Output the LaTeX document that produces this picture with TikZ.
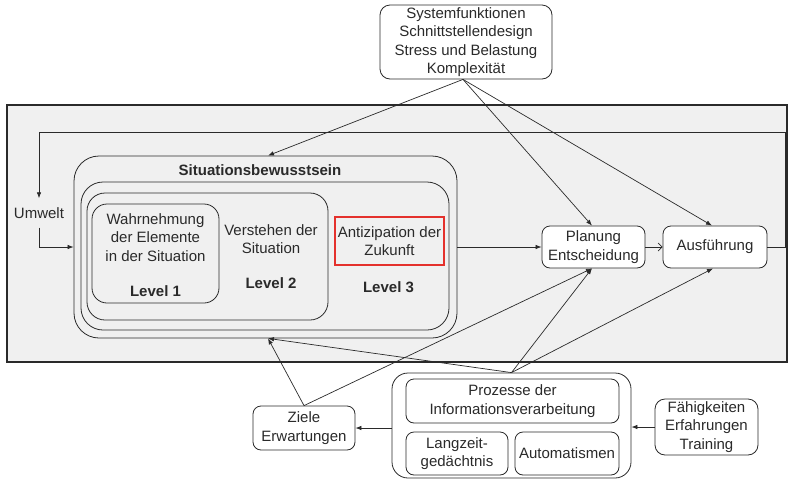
\documentclass[tikz,border=0pt]{standalone}
\usepackage{fontspec}
\setmainfont{Liberation Sans}
\usetikzlibrary{arrows.meta}
\definecolor{ink}{HTML}{2A2A2A}
\definecolor{panel}{HTML}{F0F0F0}
\definecolor{hilite}{HTML}{E4312C}
\begin{document}
\begin{tikzpicture}[x=1pt,y=-1pt,
  every node/.style={font=\fontsize{15}{18.4}\selectfont, text=ink},
  box/.style={draw=ink, line width=0.8pt, rounded corners=#1, inner sep=0pt, align=center},
  box/.default=8pt,
  label/.style={inner sep=0pt, align=center},
  head/.style={inner sep=0pt, font=\fontsize{15}{18.4}\selectfont\bfseries},
  conn/.style={draw=ink, line width=0.7pt, -{Latex[length=6pt,width=4.5pt]}},
  openconn/.style={draw=ink, line width=0.7pt, -{Straight Barb[length=4pt,width=8pt]}}
]
\useasboundingbox (0,0) rectangle (788,480);

% grey system frame
\node[draw=ink, line width=2pt, fill=panel, minimum width=780, minimum height=257, inner sep=0pt]
  (frame) at (397,233.5) {};

% influencing factors at the top
\node[box=10pt, fill=white, minimum width=172, minimum height=74] (sys) at (466,42)
  {Systemfunktionen\\Schnittstellendesign\\Stress und Belastung\\Komplexität};

% situation awareness, nested levels
\node[box=25pt, fill=panel, minimum width=383, minimum height=182] (sb) at (265.5,247) {};
\node[head] (sbtitle) at (260,170) {Situationsbewusstsein};
\node[box=22pt, fill=panel, minimum width=368, minimum height=148] (sbb) at (265,256) {};
\node[box=18pt, fill=panel, minimum width=241, minimum height=127] (lvtwo) at (207.5,256.5) {};
\node[box=15pt, fill=panel, minimum width=127, minimum height=99] (lvone) at (155.5,253.5) {};
\node[label] (wahr) at (155.5,237.5) {Wahrnehmung\\der Elemente\\in der Situation};
\node[head] (lone) at (155.5,291) {Level 1};
\node[label] (verst) at (271,239) {Verstehen der\\Situation};
\node[head] (ltwo) at (271,283) {Level 2};
\node[draw=hilite, line width=1.3pt, minimum width=109, minimum height=48, inner sep=0pt, align=center]
  (antiz) at (389.5,241) {Antizipation der\\Zukunft};
\node[head] (lthree) at (388.5,287) {Level 3};

% decision and action
\node[box=8pt, fill=white, minimum width=103, minimum height=42] (plan) at (593.5,247) {Planung\\Entscheidung};
\node[box=8pt, fill=white, minimum width=104, minimum height=42] (ausf) at (715,247) {Ausführung};

% environment
\node[label, inner ysep=9pt] (umwelt) at (39,213) {Umwelt};

% individual factors at the bottom
\node[box=16pt, fill=white, minimum width=239, minimum height=105] (prz) at (511.5,425.5) {};
\node[box=8pt, fill=white, minimum width=213, minimum height=44] (przi) at (512.5,401) {Prozesse der\\Informationsverarbeitung};
\node[box=8pt, fill=white, minimum width=102, minimum height=43] (lang) at (457,453.5) {Langzeit-\\gedächtnis};
\node[box=8pt, fill=white, minimum width=104, minimum height=43] (auto) at (567,453.5) {Automatismen};
\node[box=8pt, fill=white, minimum width=102, minimum height=44] (ziele) at (304,428) {Ziele\\Erwartungen};
\node[box=10pt, fill=white, minimum width=103, minimum height=56] (fah) at (706.5,427) {Fähigkeiten\\Erfahrungen\\Training};

% feedback loop corners
\coordinate (loopR) at (785,132);
\coordinate (loopL) at (39,132);

% connectors
\draw[conn] ([xshift=-3pt]sys.south) -- ([xshift=2.5pt]sb.north);
\draw[conn] ([xshift=-3pt]sys.south) -- ([xshift=-1.5pt]plan.north);
\draw[conn] ([xshift=-3pt]sys.south) -- ([xshift=-3pt]ausf.north);
\draw[conn] (sb.east) -- (plan.west);
\draw[openconn] (plan.east) -- (ausf.west);
\draw[conn] (ausf.east) -| (loopR) -- (loopL) -- (umwelt.north);
\draw[conn] (umwelt.south) |- (sb.west);
\draw[conn] (prz.north) -- ([xshift=2.5pt]sb.south);
\draw[conn] (prz.north) -- ([xshift=-1.5pt]plan.south);
\draw[conn] (prz.north) -- ([xshift=-2pt]ausf.south);
\draw[conn] (ziele.north) -- ([xshift=2.5pt]sb.south);
\draw[conn] (ziele.north) -- ([xshift=-1.5pt]plan.south);
\draw[conn] (prz.west |- ziele.east) -- (ziele.east);
\draw[conn] (fah.west) -- (fah.west -| prz.east);
\end{tikzpicture}
\end{document}
